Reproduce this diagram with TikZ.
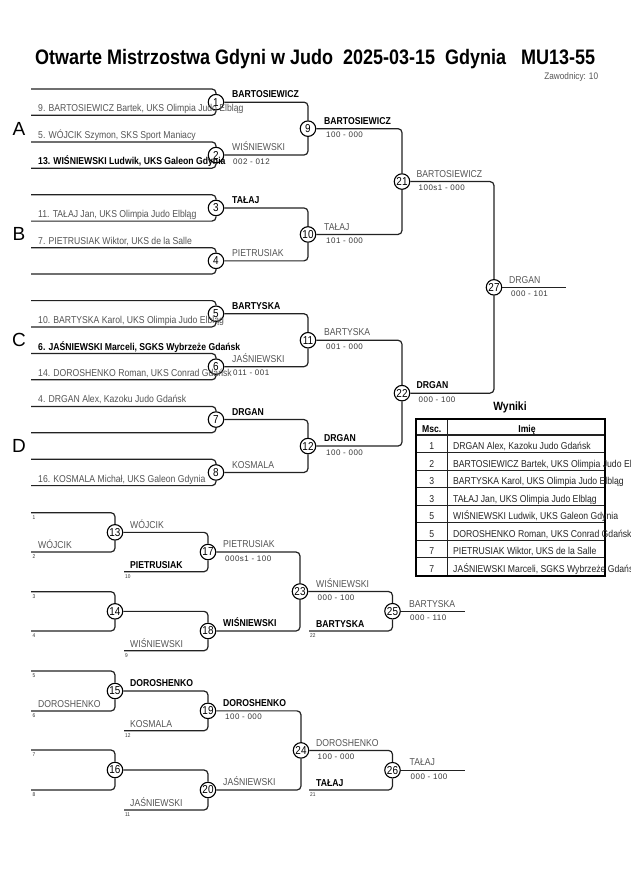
\documentclass[tikz,border=0pt]{standalone}
\usepackage{fontspec}
\setmainfont{Liberation Sans}[FakeStretch=0.865]
\newfontfamily\scfont{Liberation Sans}[LetterSpace=6]
\newfontfamily\plainfont{Liberation Sans}
\newfontfamily\ttlfont{Liberation Sans}[FakeStretch=0.857]
\definecolor{ln}{HTML}{222222}
\definecolor{ng}{HTML}{555555}
\definecolor{sg}{HTML}{3a3a3a}
\begin{document}
\begin{tikzpicture}[x=1pt,y=-1pt,
  rc/.style={circle,draw=black,line width=1.1pt,fill=white,minimum size=15.5pt,inner sep=0pt,font=\fontsize{11.5}{12}\selectfont},
  br/.style={draw=ln,line width=1.2pt,rounded corners=4pt},
  nm/.style={anchor=base west,inner sep=0pt,text=ng,font=\fontsize{10}{12}\selectfont},
  nb/.style={anchor=base west,inner sep=0pt,text=black,font=\bfseries\fontsize{10}{12}\selectfont},
  sc/.style={anchor=base west,inner sep=0pt,text=sg,font=\scfont\fontsize{8}{10}\selectfont},
  lb/.style={anchor=base west,inner sep=0pt,text=black!80,font=\fontsize{5.5}{6}\selectfont},
  grp/.style={inner sep=0pt,font=\plainfont\fontsize{19}{20}\selectfont},
  tx/.style={anchor=base west,inner sep=0pt,text=black!85,font=\fontsize{10}{12}\selectfont},
  tn/.style={anchor=base,inner sep=0pt,text=black!85,font=\fontsize{10}{12}\selectfont},
  th/.style={anchor=base,inner sep=0pt,text=black,font=\bfseries\fontsize{10}{12}\selectfont}
]
\fill[white] (0,0) rectangle (630,891);
\useasboundingbox (0,0) rectangle (630,891);

% title
\node[anchor=base west,inner sep=0pt] (ttl) at (35,64.5) {\ttlfont\bfseries\fontsize{21}{24}\selectfont Otwarte Mistrzostwa Gdyni w Judo\ \ 2025-03-15\ \ Gdynia\ \ \ MU13-55};
\node[anchor=base east,inner sep=0pt,text=ng,font=\fontsize{9.5}{10}\selectfont] (zaw) at (598.3,79.3) {Zawodnicy: 10};

% group letters
\node[grp] (gA) at (19,128.65) {A};
\node[grp] (gB) at (19,234.45) {B};
\node[grp] (gC) at (19,340.25) {C};
\node[grp] (gD) at (19,446.05) {D};

% round 1
\foreach \i/\t in {1/89,2/141.9,3/194.8,4/247.7,5/300.6,6/353.5,7/406.4,8/459.3}{
  \coordinate (a\i) at (31,\t);
  \coordinate (b\i) at (31,{\t+26.3});
  \node[rc] (m\i) at (216,{\t+13.15}) {\i};
  \draw[br] (a\i) -| (m\i.north);
  \draw[br] (b\i) -| (m\i.south);
}
% round 2
\node[rc] (m9) at (308,128.65) {9};
\node[rc] (m10) at (308,234.45) {10};
\node[rc] (m11) at (308,340.25) {11};
\node[rc] (m12) at (308,446.05) {12};
\draw[br] (m1.east) -| (m9.north);
\draw[br] (m2.east) -| (m9.south);
\draw[br] (m3.east) -| (m10.north);
\draw[br] (m4.east) -| (m10.south);
\draw[br] (m5.east) -| (m11.north);
\draw[br] (m6.east) -| (m11.south);
\draw[br] (m7.east) -| (m12.north);
\draw[br] (m8.east) -| (m12.south);
% round 3
\node[rc] (m21) at (402,181.55) {21};
\node[rc] (m22) at (402,393.15) {22};
\draw[br] (m9.east) -| (m21.north);
\draw[br] (m10.east) -| (m21.south);
\draw[br] (m11.east) -| (m22.north);
\draw[br] (m12.east) -| (m22.south);
% final
\node[rc] (m27) at (494,287.35) {27};
\draw[br] (m21.east) -| (m27.north);
\draw[br] (m22.east) -| (m27.south);
\coordinate (e27) at (566,287.35);
\draw[br] (m27.east) -- (e27);

% repechage 1
\coordinate (a13) at (31,512.7); \coordinate (b13) at (31,552);
\node[rc] (m13) at (115,532.35) {13};
\draw[br] (a13) -| (m13.north); \draw[br] (b13) -| (m13.south);
\coordinate (a14) at (31,591.7); \coordinate (b14) at (31,631);
\node[rc] (m14) at (115,611.35) {14};
\draw[br] (a14) -| (m14.north); \draw[br] (b14) -| (m14.south);
\node[rc] (m17) at (208,552) {17};
\coordinate (l17) at (124,571.7);
\draw[br] (m13.east) -| (m17.north); \draw[br] (l17) -| (m17.south);
\node[rc] (m18) at (208,631) {18};
\coordinate (l18) at (124,650.7);
\draw[br] (m14.east) -| (m18.north); \draw[br] (l18) -| (m18.south);
\node[rc] (m23) at (300,591.5) {23};
\draw[br] (m17.east) -| (m23.north); \draw[br] (m18.east) -| (m23.south);
\node[rc] (m25) at (392.5,611.2) {25};
\coordinate (l25) at (309,630.9);
\draw[br] (m23.east) -| (m25.north); \draw[br] (l25) -| (m25.south);
\coordinate (e25) at (465,611.2);
\draw[br] (m25.east) -- (e25);

% repechage 2
\coordinate (a15) at (31,671); \coordinate (b15) at (31,711);
\node[rc] (m15) at (115,691) {15};
\draw[br] (a15) -| (m15.north); \draw[br] (b15) -| (m15.south);
\coordinate (a16) at (31,750); \coordinate (b16) at (31,790);
\node[rc] (m16) at (115,770) {16};
\draw[br] (a16) -| (m16.north); \draw[br] (b16) -| (m16.south);
\node[rc] (m19) at (208,710.85) {19};
\coordinate (l19) at (124,730.7);
\draw[br] (m15.east) -| (m19.north); \draw[br] (l19) -| (m19.south);
\node[rc] (m20) at (208,790) {20};
\coordinate (l20) at (124,810);
\draw[br] (m16.east) -| (m20.north); \draw[br] (l20) -| (m20.south);
\node[rc] (m24) at (301,750.4) {24};
\draw[br] (m19.east) -| (m24.north); \draw[br] (m20.east) -| (m24.south);
\node[rc] (m26) at (392.5,770.2) {26};
\coordinate (l26) at (309,790);
\draw[br] (m24.east) -| (m26.north); \draw[br] (l26) -| (m26.south);
\coordinate (e26) at (465,770.2);
\draw[br] (m26.east) -- (e26);

% player names round 1
\node[nm] (p1) at (38,111.8) {9. BARTOSIEWICZ Bartek, UKS Olimpia Judo Elbląg};
\node[nm] (p2) at (38,138.4) {5. WÓJCIK Szymon, SKS Sport Maniacy};
\node[nb] (p3) at (38,164.7) {13. WIŚNIEWSKI Ludwik, UKS Galeon Gdynia};
\node[nm] (p4) at (38,217.6) {11. TAŁAJ Jan, UKS Olimpia Judo Elbląg};
\node[nm] (p5) at (38,244.2) {7. PIETRUSIAK Wiktor, UKS de la Salle};
\node[nm] (p6) at (38,323.4) {10. BARTYSKA Karol, UKS Olimpia Judo Elbląg};
\node[nb] (p7) at (38,350) {6. JAŚNIEWSKI Marceli, SGKS Wybrzeże Gdańsk};
\node[nm] (p8) at (38,376.3) {14. DOROSHENKO Roman, UKS Conrad Gdańsk};
\node[nm] (p9) at (38,402.9) {4. DRGAN Alex, Kazoku Judo Gdańsk};
\node[nm] (p10) at (38,482.1) {16. KOSMALA Michał, UKS Galeon Gdynia};

% winners round 1
\node[nb] (w1) at (232,97.9) {BARTOSIEWICZ};
\node[nm] (w2) at (232,150.8) {WIŚNIEWSKI};
\node[sc] (s2) at (233,164.1) {002 - 012};
\node[nb] (w3) at (232,203.7) {TAŁAJ};
\node[nm] (w4) at (232,256.6) {PIETRUSIAK};
\node[nb] (w5) at (232,309.5) {BARTYSKA};
\node[nm] (w6) at (232,362.4) {JAŚNIEWSKI};
\node[sc] (s6) at (233,375.7) {011 - 001};
\node[nb] (w7) at (232,415.3) {DRGAN};
\node[nm] (w8) at (232,468.2) {KOSMALA};
% round 2
\node[nb] (w9) at (324,124.3) {BARTOSIEWICZ};
\node[sc] (s9) at (326,137.6) {100 - 000};
\node[nm] (w10) at (324,230.1) {TAŁAJ};
\node[sc] (s10) at (326,243.4) {101 - 000};
\node[nm] (w11) at (324,335.9) {BARTYSKA};
\node[sc] (s11) at (326,349.2) {001 - 000};
\node[nb] (w12) at (324,441.7) {DRGAN};
\node[sc] (s12) at (326,455) {100 - 000};
% round 3
\node[nm] (w21) at (416.5,177.2) {BARTOSIEWICZ};
\node[sc] (s21) at (418.5,190.5) {100s1 - 000};
\node[nb] (w22) at (416.5,388.8) {DRGAN};
\node[sc] (s22) at (418.5,402.1) {000 - 100};
\node[nm] (w27) at (509,283) {DRGAN};
\node[sc] (s27) at (511,296.3) {000 - 101};

% repechage texts 1
\node[lb] (n1) at (32.5,519.5) {1};
\node[lb] (n2) at (32.5,558.8) {2};
\node[lb] (n3) at (32.5,598.5) {3};
\node[lb] (n4) at (32.5,637.8) {4};
\node[lb] (n10) at (125,578.5) {10};
\node[lb] (n9) at (125,657.5) {9};
\node[lb] (n22) at (310,637.7) {22};
\node[nm] (r1) at (38,548.5) {WÓJCIK};
\node[nm] (r2) at (130,528) {WÓJCIK};
\node[nb] (r3) at (130,568.2) {PIETRUSIAK};
\node[nm] (r4) at (223,547.7) {PIETRUSIAK};
\node[sc] (r5) at (225,561) {000s1 - 100};
\node[nm] (r6) at (130,647.2) {WIŚNIEWSKI};
\node[nb] (r7) at (223,626.7) {WIŚNIEWSKI};
\node[nm] (r8) at (316,587.2) {WIŚNIEWSKI};
\node[sc] (r9) at (317.5,600.5) {000 - 100};
\node[nb] (r10) at (316,627.2) {BARTYSKA};
\node[nm] (r11) at (409,607) {BARTYSKA};
\node[sc] (r12) at (410,620.2) {000 - 110};

% repechage texts 2
\node[lb] (n5) at (32.5,677.8) {5};
\node[lb] (n6) at (32.5,717.8) {6};
\node[lb] (n7) at (32.5,756.8) {7};
\node[lb] (n8) at (32.5,796.8) {8};
\node[lb] (n12) at (125,737.5) {12};
\node[lb] (n11) at (125,816.8) {11};
\node[lb] (n21) at (310,796.8) {21};
\node[nm] (q1) at (38,707.5) {DOROSHENKO};
\node[nb] (q2) at (130,686.7) {DOROSHENKO};
\node[nm] (q3) at (130,727.2) {KOSMALA};
\node[nb] (q4) at (223,706.5) {DOROSHENKO};
\node[sc] (q5) at (225,719.8) {100 - 000};
\node[nm] (q6) at (130,806.5) {JAŚNIEWSKI};
\node[nm] (q7) at (223,785.7) {JAŚNIEWSKI};
\node[nm] (q8) at (316,746.1) {DOROSHENKO};
\node[sc] (q9) at (317.5,759.4) {100 - 000};
\node[nb] (q10) at (316,786.5) {TAŁAJ};
\node[nm] (q11) at (409.5,765.9) {TAŁAJ};
\node[sc] (q12) at (410.5,779.2) {000 - 100};

% results table
\node[anchor=base,inner sep=0pt,font=\bfseries\fontsize{12}{14}\selectfont] (wyn) at (510,410.7) {Wyniki};
\draw[draw=ln,line width=1.2pt] (447.5,419.3) -- (447.5,575.7);
\foreach \y in {435,452.7,470.2,487.7,505.2,522.7,540.2,557.7}{
  \draw[draw=ln,line width=1.2pt] (416,\y) -- (605,\y);
}
\draw[draw=black,line width=2pt] (416,419.3) rectangle (605,575.7);
\node[th] (hm) at (431.7,432.3) {Msc.};
\node[th] (hi) at (527,432.3) {Imię};
\foreach \y/\n/\s in {449.7/1/{DRGAN Alex, Kazoku Judo Gdańsk},
  467.2/2/{BARTOSIEWICZ Bartek, UKS Olimpia Judo Elbląg},
  484.7/3/{BARTYSKA Karol, UKS Olimpia Judo Elbląg},
  502.2/3/{TAŁAJ Jan, UKS Olimpia Judo Elbląg},
  519.7/5/{WIŚNIEWSKI Ludwik, UKS Galeon Gdynia},
  537.2/5/{DOROSHENKO Roman, UKS Conrad Gdańsk},
  554.7/7/{PIETRUSIAK Wiktor, UKS de la Salle},
  572.2/7/{JAŚNIEWSKI Marceli, SGKS Wybrzeże Gdańsk}}{
  \node[tn] at (431.7,\y) {\n};
  \node[tx] at (453,\y) {\s};
}
\end{tikzpicture}
\end{document}
